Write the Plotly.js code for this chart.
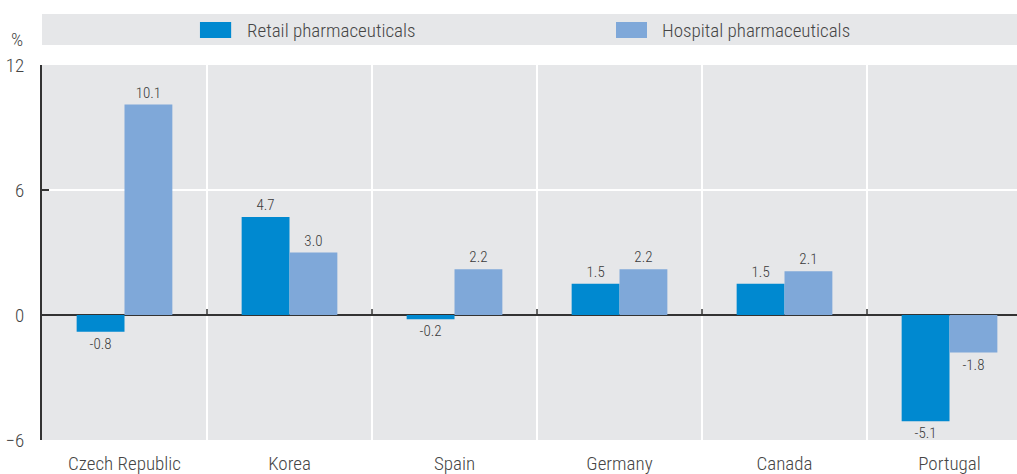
<!DOCTYPE html>
<html>
<head>
<meta charset="utf-8">
<script src="https://cdn.plot.ly/plotly-3.0.1.min.js"></script>
<style>html,body{margin:0;padding:0;background:#fff;}#chart{width:1017px;height:474px;}</style>
</head>
<body>
<div id="chart"></div>
<script>
const categories = ["Czech Republic", "Korea", "Spain", "Germany", "Canada", "Portugal"];
const retail = [-0.8, 4.7, -0.2, 1.5, 1.5, -5.1];
const hospital = [10.1, 3.0, 2.2, 2.2, 2.1, -1.8];
const seriesNames = ["Retail pharmaceuticals", "Hospital pharmaceuticals"];
const yTicks = [-6, 0, 6, 12];

const FONT = '"Roboto Condensed", "Liberation Sans Narrow", "DejaVu Sans Condensed", sans-serif';
const W = 350;
const C_RETAIL = '#0089d0';
const C_HOSP = '#7fa8d9';
const BG = '#e6e7e9';
const TXT = '#454545';

const traces = [
  {type:'bar', x:categories, y:retail, name:seriesNames[0], marker:{color:C_RETAIL},
   text:retail, texttemplate:'%{y:.1f}', textposition:'outside', cliponaxis:false,
   textfont:{family:FONT, size:15, color:'#3a3a3a', weight:W}, showlegend:false, hoverinfo:'x+y'},
  {type:'bar', x:categories, y:hospital, name:seriesNames[1], marker:{color:C_HOSP},
   text:hospital, texttemplate:'%{y:.1f}', textposition:'outside', cliponaxis:false,
   textfont:{family:FONT, size:15, color:'#3a3a3a', weight:W}, showlegend:false, hoverinfo:'x+y'}
];

const shapes = [
  {type:'rect', xref:'paper', yref:'paper', x0:0, x1:1, y0:1.0533, y1:1.136, fillcolor:BG, line:{width:0}, layer:'below'},
  {type:'rect', xref:'paper', yref:'paper', x0:0.162, x1:0.194, y0:1.072, y1:1.1147, fillcolor:C_RETAIL, line:{width:0}},
  {type:'rect', xref:'paper', yref:'paper', x0:0.5887, x1:0.6205, y0:1.072, y1:1.1147, fillcolor:C_HOSP, line:{width:0}}
];
for (let i = 0; i < categories.length - 1; i++) {
  shapes.push({type:'line', xref:'x', yref:'y', x0:i+0.5, x1:i+0.5, ysizemode:'pixel', yanchor:0, y0:0, y1:6,
               line:{color:'#333', width:1.5}});
}

const annotations = [
  {xref:'paper', yref:'paper', x:0.2082, y:1.0933, xanchor:'left', yanchor:'middle', showarrow:false,
   text:seriesNames[0], font:{family:FONT, size:19, color:TXT, weight:W}},
  {xref:'paper', yref:'paper', x:0.6339, y:1.0933, xanchor:'left', yanchor:'middle', showarrow:false,
   text:seriesNames[1], font:{family:FONT, size:19, color:TXT, weight:W}},
  {xref:'paper', yref:'paper', x:-0.0256, y:1.0667, xanchor:'center', yanchor:'middle', showarrow:false,
   text:'%', font:{family:FONT, size:19, color:TXT, weight:W}}
];

const layout = {
  width:1017, height:474,
  margin:{l:42, r:0, t:65, b:34},
  paper_bgcolor:'#ffffff', plot_bgcolor:BG,
  font:{family:FONT, color:TXT},
  barmode:'group', bargap:0.42, bargroupgap:0,
  xaxis:{type:'category', range:[-0.5, 5.409], tickson:'boundaries', showgrid:true, gridcolor:'#ffffff', gridwidth:2,
         ticks:'', showline:false, zeroline:false, tickfont:{family:FONT, size:19, color:TXT, weight:W}, ticklabelstandoff:10,
         fixedrange:true},
  yaxis:{range:[-6, 12], tickvals:yTicks, showgrid:true, gridcolor:'#ffffff', gridwidth:2,
         zeroline:true, zerolinecolor:'#333333', zerolinewidth:2,
         showline:true, linecolor:'#333333', linewidth:2, ticks:'inside', ticklen:7, tickcolor:'#333333', tickwidth:2,
         tickfont:{family:FONT, size:19, color:TXT, weight:W}, ticklabelstandoff:12, fixedrange:true},
  shapes:shapes, annotations:annotations,
  showlegend:false
};

Plotly.newPlot('chart', traces, layout, {displayModeBar:false, staticPlot:true});
</script>
</body>
</html>
